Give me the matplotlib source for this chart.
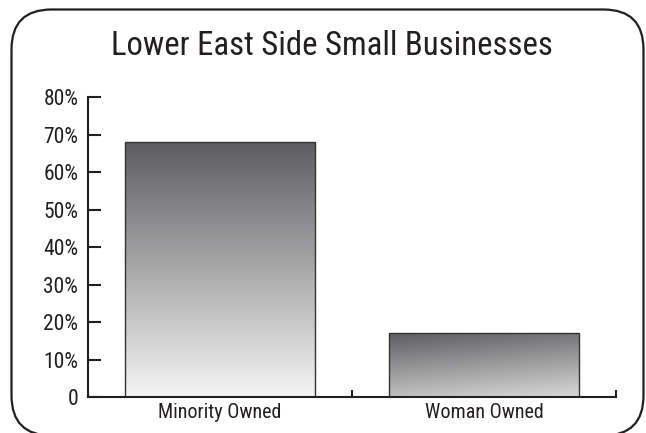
import numpy as np
import matplotlib.pyplot as plt
from matplotlib.colors import LinearSegmentedColormap
from matplotlib.patches import FancyBboxPatch

plt.rcParams['font.family'] = ['Roboto Condensed', 'DejaVu Sans']

categories = ["Minority Owned", "Woman Owned"]
values = [68, 17]
y_ticks = [0, 10, 20, 30, 40, 50, 60, 70, 80]
y_labels = ["0", "10%", "20%", "30%", "40%", "50%", "60%", "70%", "80%"]

ink = "#231f20"
# top / bottom shade of each bar
shades = [("#5e5e61", "#f4f4f4"), ("#5e5e61", "#d8d8d8")]

fig = plt.figure(figsize=(6.46, 4.33), dpi=100)

# rounded frame, drawn in pixel units (y measured from the bottom)
frame = fig.add_axes([0, 0, 1, 1])
frame.set_xlim(0, 646)
frame.set_ylim(0, 433)
frame.axis("off")
frame.add_patch(FancyBboxPatch((11.5, -2.5), 632, 426, boxstyle="round,pad=0,rounding_size=40",
                               fill=False, edgecolor=ink, linewidth=1.6))
frame.text(332, 387, "Lower East Side Small Businesses", ha="center", va="center",
           fontsize=23.6, color=ink)

ax = fig.add_axes([0.1362, 0.0831, 0.8174, 0.6928])
x = np.arange(len(categories))
bars = ax.bar(x, values, width=0.72, facecolor="none", edgecolor="#333333", linewidth=1.0, zorder=3)

for i, (bar, (top, bottom)) in enumerate(zip(bars, shades)):
    cmap = LinearSegmentedColormap.from_list("shade%d" % i, [top, bottom])
    yy, xx = np.mgrid[0:1:200j, 0:1:200j]
    grad = yy if i == 0 else 0.8 * yy + 0.2 * xx
    bx, bw, bh = bar.get_x(), bar.get_width(), bar.get_height()
    img = ax.imshow(grad, cmap=cmap, extent=(bx, bx + bw, 0, bh), origin="upper",
                    aspect="auto", zorder=2, interpolation="bilinear")
    img.set_clip_path(bar)

ax.set_xlim(-0.5, 1.5)
ax.set_ylim(0, 80)
ax.set_yticks(y_ticks)
ax.set_yticklabels(y_labels)
ax.set_xticks([-0.5, 0.5, 1.5])
ax.set_xticklabels([])
ax.set_xticks(x, minor=True)
ax.set_xticklabels(categories, minor=True)
ax.tick_params(axis="x", which="minor", length=0, pad=4, labelsize=14.5, labelcolor=ink)
ax.tick_params(axis="x", which="major", direction="in", length=5, width=1.5, color=ink)
ax.tick_params(axis="y", direction="in", length=9.5, width=1.5, color=ink, pad=7,
               labelsize=15.5, labelcolor=ink)

for side in ["top", "right"]:
    ax.spines[side].set_visible(False)
for side in ["left", "bottom"]:
    ax.spines[side].set_linewidth(1.5)
    ax.spines[side].set_color(ink)
ax.patch.set_alpha(0)

fig.savefig("out.png", dpi=100)
